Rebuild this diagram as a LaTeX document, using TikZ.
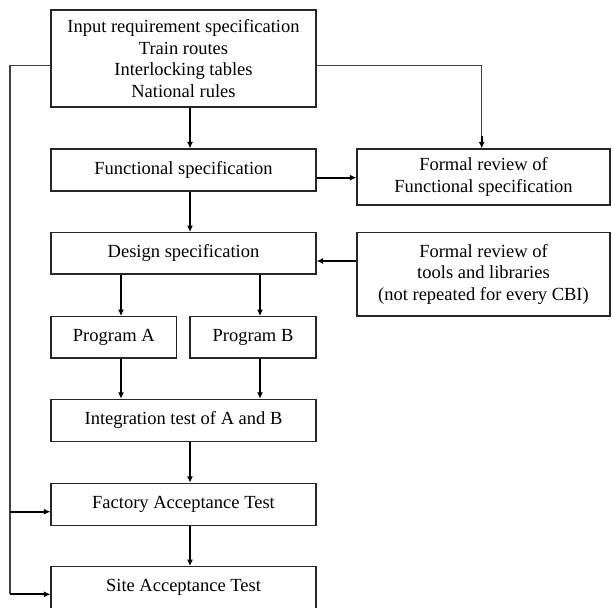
\documentclass[tikz,border=0pt]{standalone}
\usepackage{fontspec}
\setmainfont{Liberation Serif}
\usetikzlibrary{arrows.meta,calc}
\begin{document}
\begin{tikzpicture}[x=1pt,y=-1pt,
  box/.style={draw=black!85,line width=1.1pt,rectangle,inner sep=0pt,align=center,
    font=\fontsize{18.5}{21.5}\selectfont},
  tip/.style={-{Latex[length=6.5pt,width=6pt]}},
  flow/.style={line width=1.8pt,tip},
  feed/.style={draw=black!75,line width=1.3pt},
  feedarr/.style={draw=black,line width=1.8pt,tip}]
\useasboundingbox (0,0) rectangle (612,607);

% main column
\node[box,minimum width=265pt,minimum height=97pt,text depth=-2pt] (input) at (183.5,58.5)
  {Input requirement specification\\Train routes\\Interlocking tables\\National rules};
\node[box,minimum width=265pt,minimum height=42pt] (func) at (183.5,170) {Functional specification};
\node[box,minimum width=265pt,minimum height=41.3pt] (design) at (183.5,253.3) {Design specification};
\node[box,minimum width=125.7pt,minimum height=41.3pt] (proga) at (113.8,337.3) {Program A};
\node[box,minimum width=126pt,minimum height=41.3pt] (progb) at (253,337.3) {Program B};
\node[box,minimum width=265pt,minimum height=41.7pt] (integ) at (183.5,420.2) {Integration test of A and B};
\node[box,minimum width=265pt,minimum height=41.7pt] (fat) at (183.5,504.2) {Factory Acceptance Test};
\node[box,minimum width=265pt,minimum height=41.7pt] (sat) at (183.5,587.5) {Site Acceptance Test};

% review column
\node[box,minimum width=253pt,minimum height=56pt] (ffs) at (483.5,177)
  {Formal review of\\Functional specification};
\node[box,minimum width=253pt,minimum height=83.3pt] (ftools) at (483.5,274.3)
  {Formal review of\\tools and libraries\\(not repeated for every CBI)};

% main flow
\draw[flow] ([xshift=6.5pt]input.south) -- ([xshift=6.5pt]func.north);
\draw[flow] ([xshift=6.5pt]func.south) -- ([xshift=6.5pt]design.north);
\draw[flow] (design.south -| proga.north) ++(7.2,0) coordinate (da) -- (da |- proga.north);
\draw[flow] (design.south -| progb.north) ++(7,0) coordinate (db) -- (db |- progb.north);
\draw[flow] ([xshift=7.2pt]proga.south) -- ([xshift=7.2pt]proga.south |- integ.north);
\draw[flow] ([xshift=7pt]progb.south) -- ([xshift=7pt]progb.south |- integ.north);
\draw[flow] ([xshift=6.5pt]integ.south) -- ([xshift=6.5pt]fat.north);
\draw[flow] ([xshift=6.5pt]fat.south) -- ([xshift=6.5pt]sat.north);

% reviews
\draw[flow] ([yshift=-7.7pt]func.east) -- ([yshift=-7.7pt]func.east -| ffs.west);
\draw[flow] ([yshift=-7.7pt]design.east -| ftools.west) -- ([yshift=-7.7pt]design.east);
\draw[feed] (input.east |- 0,65.7) -| ([xshift=-1.8pt,yshift=12pt]ffs.north) coordinate (rv);
\draw[feedarr] (rv) -- ([xshift=-1.8pt]ffs.north);

% input fed to the acceptance tests
\coordinate (lft) at (10,0);
\draw[feed] (input.west |- 0,65.7) -| (lft |- 0,594.3);
\draw[feedarr] (lft |- 0,511.7) -- (fat.west |- 0,511.7);
\draw[feedarr] (lft |- 0,594.3) -- (sat.west |- 0,594.3);
\end{tikzpicture}
\end{document}
